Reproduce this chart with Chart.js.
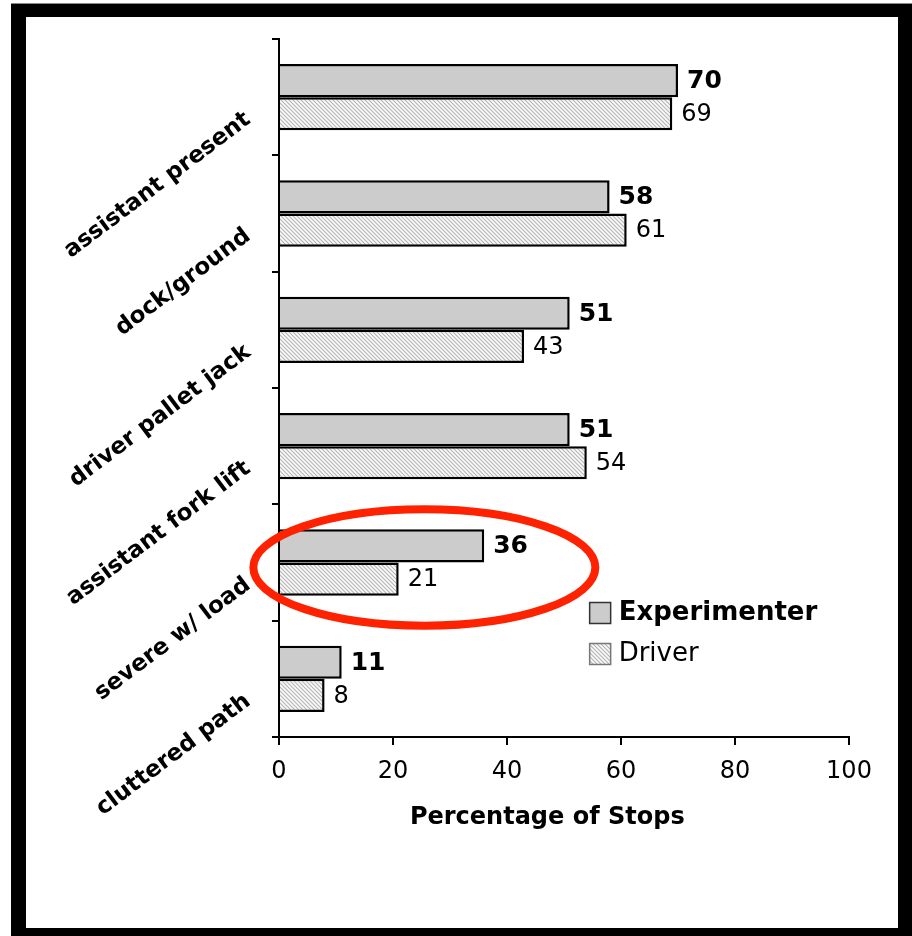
<!DOCTYPE html>
<html>
<head>
<meta charset="utf-8">
<title>Percentage of Stops</title>
<script src="https://cdn.jsdelivr.net/npm/chart.js@4/dist/chart.umd.min.js"></script>
<style>
  html, body { margin: 0; padding: 0; background: #fff; width: 912px; height: 936px; overflow: hidden; }
  #frame {
    position: absolute; left: 11px; top: 3px; width: 901px; height: 933px;
    background: #000; border-top: 1px solid #888; box-sizing: border-box;
  }
  #wrap {
    position: absolute; left: 15px; top: 13px; width: 872px; height: 911px; background: #fff;
  }
  canvas { display: block; }
</style>
</head>
<body>
<div id="frame"><div id="wrap"><canvas id="chart" width="872" height="911"></canvas></div></div>
<script>
// Categories, top to bottom
const categories = [
  'assistant present',
  'dock/ground',
  'driver pallet jack',
  'assistant fork lift',
  'severe w/ load',
  'cluttered path'
];
// Percentage of stops per condition
const experimenterValues = [70, 58, 51, 51, 36, 11];
const driverValues = [69, 61, 43, 54, 21, 8];
const xTicks = [0, 20, 40, 60, 80, 100];
const seriesNames = ['Experimenter', 'Driver'];
// Highlighted category
const highlightCategory = 'severe w/ load';

const FONT = "'DejaVu Sans', Verdana, sans-serif";

// Diagonal hatch fill for the Driver series
function makeHatch() {
  const s = 4;
  const c = document.createElement('canvas');
  c.width = s; c.height = s;
  const g = c.getContext('2d');
  g.fillStyle = '#fafafa';
  g.fillRect(0, 0, s, s);
  g.strokeStyle = '#b4b4b4';
  g.lineWidth = 1.1;
  g.beginPath();
  g.moveTo(-1, -1); g.lineTo(s + 1, s + 1);
  g.moveTo(-1, s - 1); g.lineTo(1, s + 1);
  g.moveTo(s - 1, -1); g.lineTo(s + 1, 1);
  g.stroke();
  return g.createPattern(c, 'repeat');
}
const hatch = makeHatch();

// Value labels at bar ends, legend and highlight ellipse
const decorations = {
  id: 'decorations',
  afterDatasetsDraw(chart) {
    const ctx = chart.ctx;
    ctx.save();
    ctx.textBaseline = 'middle';
    ctx.textAlign = 'left';
    chart.data.datasets.forEach((ds, di) => {
      const meta = chart.getDatasetMeta(di);
      ctx.font = (di === 0 ? 'bold 25px ' : '24px ') + FONT;
      ctx.fillStyle = '#000';
      meta.data.forEach((bar, i) => {
        ctx.fillText(String(ds.data[i]), bar.x + 9, bar.y + 1);
      });
    });

    // highlight ellipse around one category
    const xs = chart.scales.x, ys = chart.scales.y;
    const idx = categories.indexOf(highlightCategory);
    const cx = xs.getPixelForValue(25.5);
    const cy = ys.getPixelForValue(idx) + 5;
    const rx = xs.getPixelForValue(30) - xs.getPixelForValue(0);
    const ry = (ys.getPixelForValue(1) - ys.getPixelForValue(0)) * 0.5;
    ctx.beginPath();
    ctx.ellipse(cx, cy, rx, ry, 0, 0, Math.PI * 2);
    ctx.strokeStyle = '#ff2200';
    ctx.lineWidth = 8;
    ctx.stroke();

    // legend
    const lx = xs.getPixelForValue(54.5);
    const ly0 = ys.getPixelForValue(4) + 50;
    chart.data.datasets.forEach((ds, di) => {
      const y = ly0 + di * 41;
      ctx.fillStyle = ds.backgroundColor;
      ctx.fillRect(lx, y - 10, 21, 21);
      ctx.strokeStyle = di === 0 ? '#333' : '#777';
      ctx.lineWidth = 1.5;
      ctx.strokeRect(lx, y - 10, 21, 21);
      ctx.fillStyle = '#000';
      ctx.font = (di === 0 ? 'bold ' : '') + '26px ' + FONT;
      ctx.fillText(ds.label, lx + 29, y + 1);
    });
    ctx.restore();
  }
};

new Chart(document.getElementById('chart'), {
  type: 'bar',
  data: {
    labels: categories,
    datasets: [
      {
        label: seriesNames[0],
        data: experimenterValues,
        backgroundColor: '#cccccc',
        borderColor: '#000',
        borderWidth: 2.5
      },
      {
        label: seriesNames[1],
        data: driverValues,
        backgroundColor: hatch,
        borderColor: '#000',
        borderWidth: 2.5
      }
    ]
  },
  options: {
    indexAxis: 'y',
    responsive: false,
    animation: false,
    events: [],
    layout: { padding: { top: 22, right: 49, bottom: 71, left: 0 } },
    datasets: { bar: { categoryPercentage: 0.57, barPercentage: 1.0 } },
    plugins: {
      legend: { display: false },
      tooltip: { enabled: false }
    },
    scales: {
      x: {
        min: 0, max: 100,
        afterBuildTicks(scale) { scale.ticks = xTicks.map(v => ({ value: v })); },
        afterFit(scale) { scale.height = 120; scale.paddingLeft = 0; scale.paddingRight = 0; },
        grid: { drawOnChartArea: false, drawTicks: true, tickLength: 8, color: '#000', lineWidth: 2 },
        border: { display: true, color: '#000', width: 2 },
        ticks: { color: '#000', padding: 12, font: { family: FONT, size: 24 } },
        title: {
          display: true, text: 'Percentage of Stops    ', color: '#000',
          font: { family: FONT, size: 24, weight: 'bold' },
          padding: { top: 0, bottom: 25 }
        }
      },
      y: {
        afterFit(scale) { scale.width = 253; scale.paddingTop = 0; scale.paddingBottom = 0; },
        grid: { drawOnChartArea: false, drawTicks: true, tickLength: 7, color: '#000', lineWidth: 2, offset: true },
        border: { display: true, color: '#000', width: 2 },
        ticks: {
          color: '#000', padding: 24, minRotation: 37, maxRotation: 37, labelOffset: 20,
          font: { family: FONT, size: 23, weight: 'bold' }
        }
      }
    }
  },
  plugins: [decorations]
});
</script>
</body>
</html>
